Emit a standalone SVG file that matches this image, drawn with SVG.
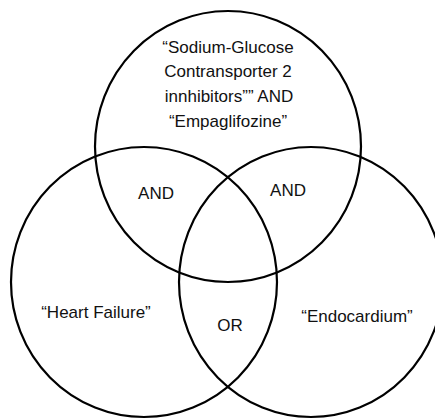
<svg xmlns="http://www.w3.org/2000/svg" width="435" height="419" viewBox="0 0 435 419">
<style>
.c{fill:none;stroke:#000;stroke-width:2.2}
.t{font-family:"Liberation Sans",Arial,sans-serif;font-size:17px;fill:#111;text-anchor:middle}
</style>
<rect width="435" height="419" fill="#fff"/>
<g id="top-set"><ellipse class="c" cx="228" cy="146.5" rx="133" ry="135.5"/>
<text class="t" x="228" y="53">“Sodium-Glucose</text>
<text class="t" x="228" y="77">Contransporter 2</text>
<text class="t" x="229" y="102">innhibitors”” AND</text>
<text class="t" x="228" y="127">“Empaglifozine”</text></g>
<g id="left-set"><ellipse class="c" cx="144" cy="282" rx="133" ry="135"/>
<text class="t" x="96" y="318">“Heart Failure”</text></g>
<g id="right-set"><ellipse class="c" cx="311" cy="282" rx="132" ry="135"/>
<text class="t" x="357" y="322">“Endocardium”</text></g>
<g id="overlaps">
<text class="t" x="156" y="199">AND</text>
<text class="t" x="288" y="196">AND</text>
<text class="t" x="230" y="331">OR</text>
</g>
</svg>
